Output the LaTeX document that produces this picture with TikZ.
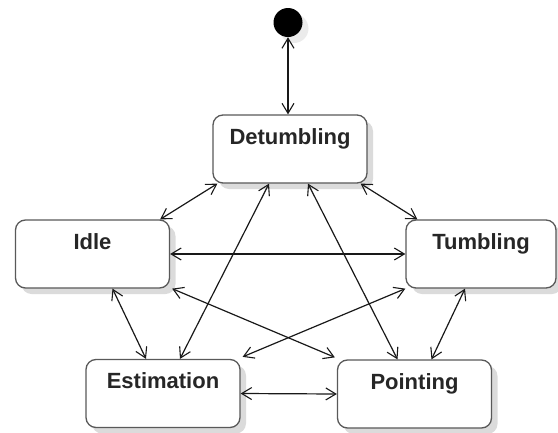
\documentclass[tikz,border=0pt]{standalone}
\usepackage{fontspec}
\setmainfont{Liberation Sans}
\usetikzlibrary{arrows.meta,shadows}
\begin{document}
\begin{tikzpicture}[x=1pt,y=-1pt,
  statebox/.style={draw=black!65, line width=1.3pt, rounded corners=10pt, fill=white,
    minimum width=154pt, minimum height=68pt, inner sep=0pt,
    drop shadow={shadow xshift=6pt, shadow yshift=-6pt, fill=black!14, opacity=1}},
  lab/.style={anchor=base, yshift=-30pt, font=\fontsize{22}{26}\selectfont\bfseries, text=black!85, inner sep=0pt},
  conn/.style={<->, line width=1.2pt, black!90, >={Straight Barb[length=10pt,width=12pt,line width=1.1pt]}},
  startdot/.style={circle, fill=black, minimum size=29pt, inner sep=0pt,
    drop shadow={shadow xshift=6pt, shadow yshift=-6pt, fill=black!8, opacity=1}}]
\useasboundingbox (0,0) rectangle (558,432);
\node[startdot] (init) at (288,22.5) {};
\node[statebox, label={[lab]north:Detumbling}] (det) at (290,149) {};
\node[statebox, label={[lab]north:Idle}] (idle) at (92.5,254) {};
\node[statebox, minimum width=150pt, label={[lab]north:Tumbling}] (tumb) at (481,254) {};
\node[statebox, label={[lab]north:Estimation}] (est) at (163,393.5) {};
\node[statebox, label={[lab]north:Pointing}] (point) at (414.5,394) {};

\draw[conn] (init.south) -- (init.south |- det.north);
\draw[conn] ([xshift=5pt]det.south west) -- ([xshift=-10pt]idle.north east);
\draw[conn] ([xshift=-7pt]det.south east) -- ([xshift=12pt]tumb.north west);
\draw[conn] (idle.east) -- (tumb.west);
\draw[conn] ([xshift=2pt]idle.south east) -- ([xshift=-2pt,yshift=2pt]point.north west);
\draw[conn] (tumb.south west) -- ([xshift=2pt,yshift=2pt]est.north east);
\draw[conn] ([xshift=20pt]idle.south) -- ([xshift=-17pt]est.north);
\draw[conn] ([xshift=-21pt]det.south) -- ([xshift=17pt]est.north);
\draw[conn] ([xshift=18pt]det.south) -- ([xshift=-17pt]point.north);
\draw[conn] ([xshift=-16pt]tumb.south) -- ([xshift=17pt]point.north);
\draw[conn] (est.east) -- (point.west);
\end{tikzpicture}
\end{document}
